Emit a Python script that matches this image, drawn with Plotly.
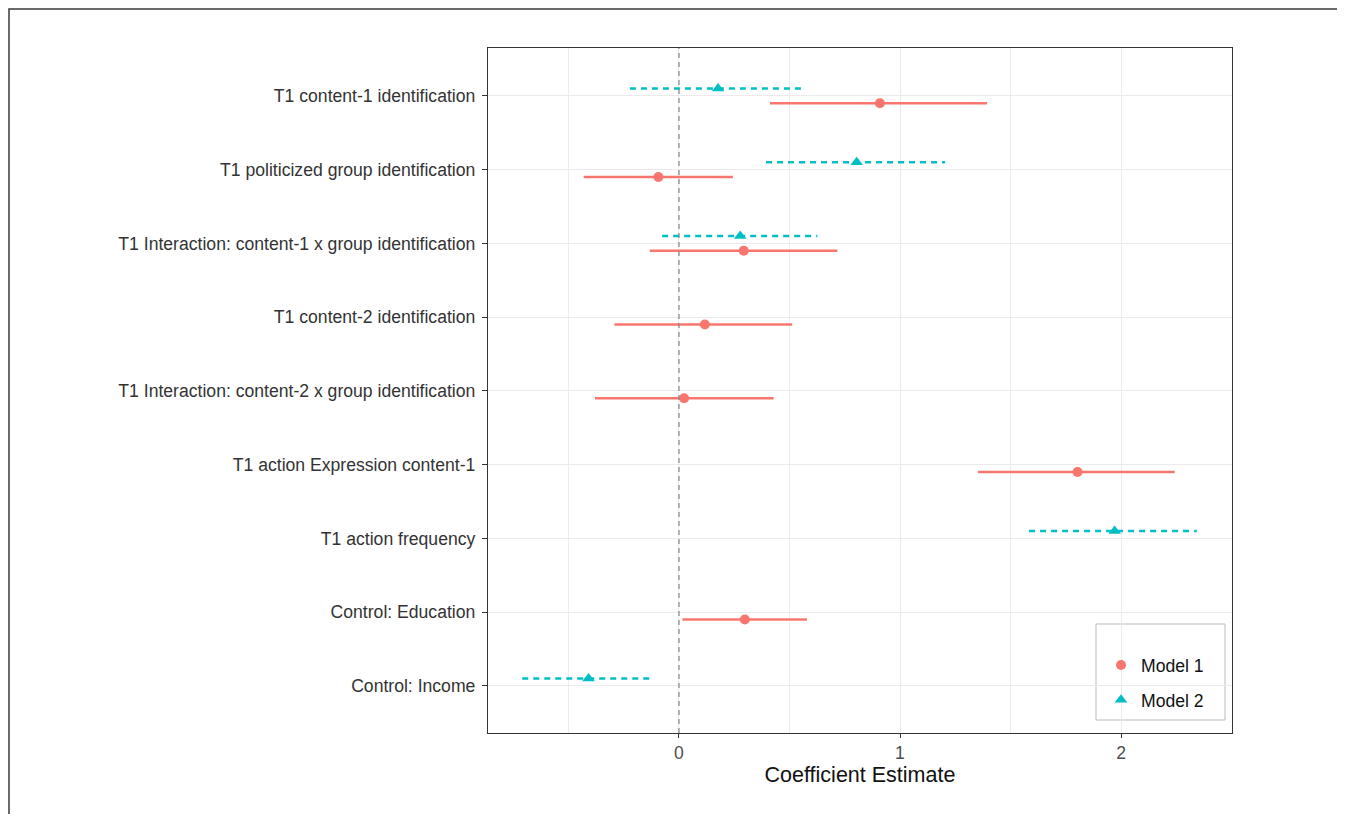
import plotly.graph_objects as go

# ---- data ----
terms = [
    "T1 content-1 identification",
    "T1 politicized group identification",
    "T1 Interaction: content-1 x group identification",
    "T1 content-2 identification",
    "T1 Interaction: content-2 x group identification",
    "T1 action Expression content-1",
    "T1 action frequency",
    "Control: Education",
    "Control: Income",
]

m1_terms = [
    "T1 content-1 identification",
    "T1 politicized group identification",
    "T1 Interaction: content-1 x group identification",
    "T1 content-2 identification",
    "T1 Interaction: content-2 x group identification",
    "T1 action Expression content-1",
    "Control: Education",
]
m1_est = [0.909, -0.093, 0.293, 0.117, 0.023, 1.803, 0.298]
m1_lo = [0.412, -0.431, -0.132, -0.292, -0.380, 1.353, 0.016]
m1_hi = [1.394, 0.244, 0.717, 0.512, 0.428, 2.243, 0.579]

m2_terms = [
    "T1 content-1 identification",
    "T1 politicized group identification",
    "T1 Interaction: content-1 x group identification",
    "T1 action frequency",
    "Control: Income",
]
m2_est = [0.177, 0.804, 0.277, 1.971, -0.409]
m2_lo = [-0.222, 0.394, -0.076, 1.584, -0.709]
m2_hi = [0.570, 1.204, 0.626, 2.342, -0.113]

x_ticks = [0, 1, 2]
x_minor = [-0.5, 0.5, 1.5, 2.5]

RED = "#F8766D"
TEAL = "#00BFC4"
FONT = "Liberation Sans, Arial, sans-serif"
DODGE = 0.1

# figure geometry (page has an 8px body margin)
W, H = 1337, 806
ML, MR, MT, MB = 480, 113, 40, 81
PW = W - ML - MR
PH = H - MT - MB


def px_to_paper_x(px):
    return (px - 8 - ML) / PW


def px_to_paper_y(py):
    return (H - MB - (py - 8)) / PH


def pos(term, off):
    return terms.index(term) + off


def segs(tlist, lo, hi, off):
    xs, ys = [], []
    for t, a, b in zip(tlist, lo, hi):
        y = pos(t, off)
        xs += [a, b, None]
        ys += [y, y, None]
    return xs, ys


fig = go.Figure()

x1, y1 = segs(m1_terms, m1_lo, m1_hi, DODGE)
fig.add_trace(go.Scatter(x=x1, y=y1, mode="lines", line=dict(color=RED, width=2.5),
                         showlegend=False, hoverinfo="skip"))
x2, y2 = segs(m2_terms, m2_lo, m2_hi, -DODGE)
fig.add_trace(go.Scatter(x=x2, y=y2, mode="lines",
                         line=dict(color=TEAL, width=2.5, dash="6px,5px"),
                         showlegend=False, hoverinfo="skip"))

fig.add_trace(go.Scatter(x=m1_est, y=[pos(t, DODGE) for t in m1_terms], mode="markers",
                         marker=dict(color=RED, size=10, symbol="circle"),
                         name="Model 1", legendgroup="m1"))
fig.add_trace(go.Scatter(x=m2_est, y=[pos(t, -DODGE) for t in m2_terms], mode="markers",
                         marker=dict(color=TEAL, size=11, symbol="triangle-up"),
                         name="Model 2", legendgroup="m2"))

# dashed zero line
fig.add_shape(type="line", xref="x", yref="paper", x0=0, x1=0, y0=0, y1=1,
              line=dict(color="#8C8C8C", width=1.3, dash="5px,4px"), layer="above")

# legend box
fig.add_shape(type="rect", xref="paper", yref="paper",
              x0=px_to_paper_x(1096), x1=px_to_paper_x(1225),
              y0=px_to_paper_y(720), y1=px_to_paper_y(624),
              line=dict(color="#BDBDBD", width=1), fillcolor="white", layer="between")

# outer figure frame
fig.add_shape(type="rect", xref="paper", yref="paper",
              x0=px_to_paper_x(9), x1=px_to_paper_x(1343),
              y0=px_to_paper_y(840), y1=px_to_paper_y(9),
              line=dict(color="#3a3a3a", width=1.5), fillcolor="rgba(0,0,0,0)")

fig.update_layout(
    width=W, height=H,
    margin=dict(l=ML, r=MR, t=MT, b=MB),
    paper_bgcolor="white", plot_bgcolor="white",
    font=dict(family=FONT, size=17.6, color="#333333"),
    legend=dict(
        x=px_to_paper_x(1101), xanchor="left", y=px_to_paper_y(647), yanchor="top",
        borderwidth=0, bgcolor="rgba(0,0,0,0)",
        font=dict(size=17.6, color="#111111"),
        traceorder="grouped", tracegroupgap=9,
    ),
    xaxis=dict(
        range=[-0.864, 2.502], tickmode="array", tickvals=x_ticks,
        ticktext=[str(v) for v in x_ticks],
        showgrid=True, gridcolor="#EBEBEB", gridwidth=1.3,
        minor=dict(tickmode="array", tickvals=x_minor, showgrid=True,
                   gridcolor="#EDEDED", gridwidth=1.1, ticklen=0),
        zeroline=False, showline=True, mirror=True, linecolor="#333333", linewidth=1.3,
        ticks="outside", ticklen=4, tickcolor="#333333", tickwidth=1.2,
        tickfont=dict(size=17.6, color="#4D4D4D"),
        title=dict(text="Coefficient Estimate", font=dict(size=21.5, color="#111111"), standoff=3),
    ),
    yaxis=dict(
        range=[8.64, -0.65], tickmode="array", tickvals=list(range(len(terms))),
        ticktext=terms,
        showgrid=True, gridcolor="#EBEBEB", gridwidth=1.3,
        zeroline=False, showline=True, mirror=True, linecolor="#333333", linewidth=1.3,
        ticks="outside", ticklen=5, tickcolor="#333333", tickwidth=1.2,
        ticklabelstandoff=3,
        tickfont=dict(size=17.6, color="#333333"),
    ),
)

fig.write_html("out.html")
